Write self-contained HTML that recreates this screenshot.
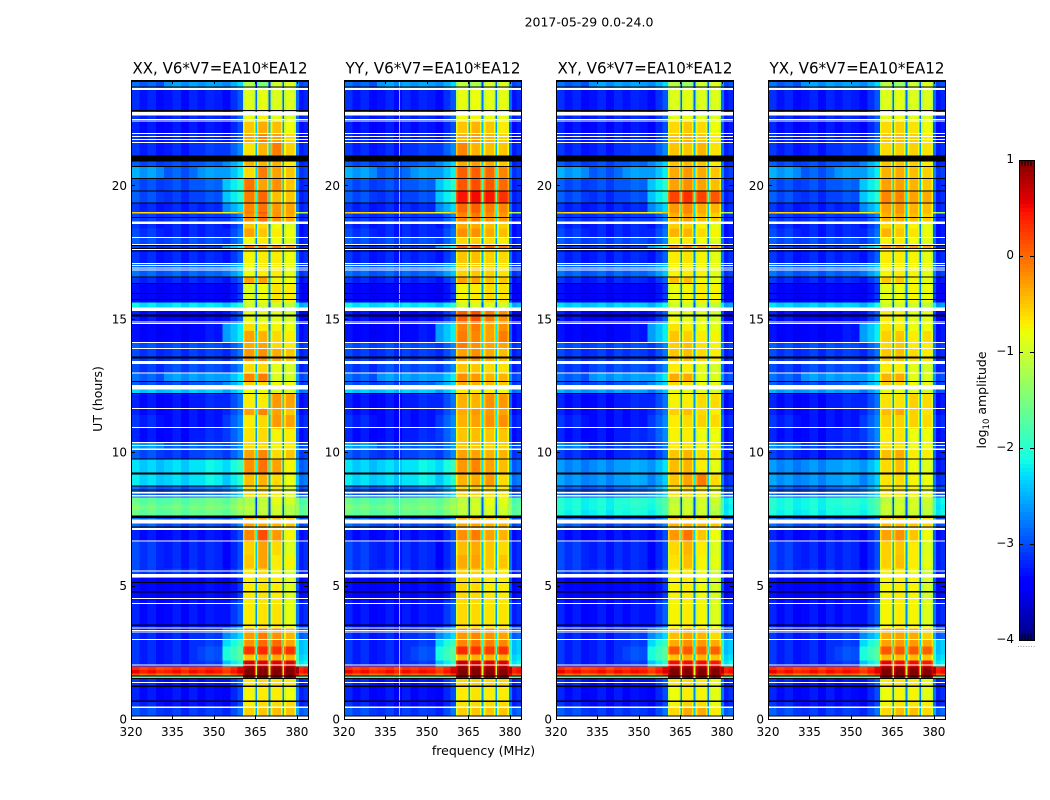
<!DOCTYPE html>
<html lang="en">
<head>
<meta charset="utf-8">
<title>2017-05-29 dynamic spectra</title>
<style>
html,body{margin:0;padding:0;background:#fff}
svg{display:block}
text{font-family:"DejaVu Sans","Liberation Sans",sans-serif;fill:#000}
</style>
</head>
<body>
<svg id="figure" xmlns="http://www.w3.org/2000/svg" width="1050" height="800" viewBox="0 0 1050 800">
<text x="589" y="26.5" font-size="12.5" text-anchor="middle">2017-05-29 0.0-24.0</text>
<text x="102" y="399" font-size="12.5" text-anchor="middle" transform="rotate(-90 102 399)">UT (hours)</text>
<text x="483.5" y="755" font-size="12.5" text-anchor="middle">frequency (MHz)</text>
<text x="986" y="400" font-size="12.5" text-anchor="middle" transform="rotate(-90 986 400)">log<tspan font-size="8.5" dy="3">10</tspan><tspan dy="-3"> amplitude</tspan></text>
<g id="panels"></g>
<g id="colorbar"></g>
</svg>
<script>
// ---- chart data (log10 amplitude, hours, MHz) ----
const panelTitles = ['XX, V6*V7=EA10*EA12','YY, V6*V7=EA10*EA12','XY, V6*V7=EA10*EA12','YX, V6*V7=EA10*EA12'];
const freqTicks = [320,335,350,365,380];
const hourTicks = [0,5,10,15,20];
const colorbarTicks = [1,0,-1,-2,-3,-4];

// Channel edges in MHz
const channelEdges = [320,323,326,329,332,335,338,341,344,347,350,353,356,358.5,360.5,361.1,364.4,365,365.5,366.1,369.1,369.7,370.5,371.1,374.2,374.8,375.4,376,379.1,379.7,380.7,382.3,384];
// Which level each channel reads: 0-4 background columns, 5-8 bands, 9 gap between bands
const channelLevel = [0,0,0,0,1,1,1,1,2,2,2,3,3,3,5,5,5,9,6,6,6,9,7,7,7,9,8,8,8,4,4,4];
const channelOffset = [.1,-.05,.05,-.1,-.05,.05,-.1,.05,-.05,.05,0,-.2,0,.2,-.35,0,-.3,0,-.3,0,-.3,0,-.3,0,-.3,0,-.3,0,-.35,.4,-.05,.05];

// Start hour of each spectrum row
const rowStarts = [0,.45,.7,1.25,1.55,1.65,1.72,1.85,1.97,2.2,2.42,2.72,3,3.45,4.45,5.3,5.65,6.15,6.65,7.1,7.62,7.85,8.05,8.32,8.75,9.2,9.75,10.1,10.4,10.9,11.4,11.65,12.2,12.4,12.65,13,13.4,13.9,14.1,14.55,14.85,15.42,15.62,16.33,16.57,17.08,17.6,17.8,18.05,18.4,18.65,18.95,19.02,19.35,19.8,20.25,20.7,21.1,21.6,21.95,22.4,22.75,23.6,23.72];

// Background levels per row: 320-332, 332-344, 344-353, 353-360.5, 380-384 MHz
const background = [
[-3,-3.1,-3.1,-3,-2.9],[-3.2,-3.3,-3.3,-3.2,-3.2],[-3.3,-3.3,-3.35,-3.2,-3.2],[-3.2,-3.3,-3.3,-3.1,-3.2],[-1.9,-1.9,-1.9,-1.8,-1.8],
[.05,.05,.05,.1,.1],[.45,.45,.45,.45,.45],[.25,.25,.3,.35,.4],[-3.2,-3.2,-3.1,-2.2,-2.2],
[-3.2,-3.2,-3,-1.9,-2.3],[-3.2,-3.2,-3,-1.9,-2.4],[-3.2,-3.2,-3.1,-2.1,-2.4],[-3.2,-3.2,-3.1,-2.5,-2.9],
[-3.3,-3.3,-3.3,-3.1,-3.2],[-3.4,-3.4,-3.35,-3.3,-3.35],[-3.1,-3.1,-3.2,-3.1,-3.2],[-3.1,-3.2,-3.2,-3.2,-3.2],
[-3.1,-3.2,-3.2,-3.2,-3.2],[-3.3,-3.3,-3.3,-3.2,-3.3],[-2.9,-3,-3,-2.9,-3],[-1.65,-1.65,-1.6,-1.5,-1.7],
[-1.55,-1.55,-1.5,-1.4,-1.7],[-1.7,-1.7,-1.6,-1.5,-1.8],[-2.9,-2.9,-2.8,-2.5,-3],[-2.3,-2.3,-2.2,-2.2,-2.8],
[-2.35,-2.3,-2.2,-2.1,-2.9],[-3,-3.1,-3,-2.9,-3.1],[-2.6,-2.9,-2.9,-2.8,-3],[-3.3,-3.3,-3.2,-2.9,-3.3],
[-3.2,-3.3,-3.3,-2.9,-3.2],[-3.3,-3.3,-3.3,-3,-3.3],[-3.3,-3.3,-3.2,-3,-3.3],[-2.4,-2.4,-2.4,-2.4,-2.8],
[-3,-3,-2.9,-2.5,-3.1],[-2.9,-2.6,-2.6,-2.4,-3],[-3.1,-3,-3,-2.9,-3.2],[-3.1,-3.1,-3.1,-3,-3.2],
[-3,-3,-3,-2.9,-3.1],[-3.4,-3.4,-3.3,-2.4,-3.3],[-3.4,-3.4,-3.3,-2.4,-3.3],[-3.3,-3.4,-3.35,-3.1,-3.4],
[-2.25,-2.25,-2.25,-2.2,-2.5],[-3.4,-3.4,-3.4,-3.3,-3.45],[-3.2,-3.2,-3.2,-3.1,-3.3],[-2.9,-2.9,-2.9,-2.6,-3.1],
[-3.2,-3.2,-3.2,-3.1,-3.2],[-3.1,-3.1,-3.1,-2.4,-3.2],[-3,-3,-3,-2.9,-3.2],[-3.1,-3.2,-3.2,-3,-3.3],
[-3.2,-3.2,-3.2,-3.1,-3.3],[-3.1,-3.1,-3.1,-2.9,-3.2],[-.6,-.6,-.7,-.7,-1.2],[-3.2,-3.2,-3.2,-2.5,-3.2],
[-3,-3.1,-3,-2.2,-3.2],[-3,-3,-2.9,-2.2,-3.2],[-2.6,-2.9,-2.6,-2.4,-3.1],[-3,-3,-2.9,-2.5,-3.2],
[-3.2,-3.2,-3.1,-2.9,-3.2],[-3.2,-3.2,-3.2,-3.1,-3.3],[-3.3,-3.3,-3.3,-3.2,-3.3],[-3.2,-3.2,-3.2,-3.1,-3.2],
[-3.25,-3.25,-3.25,-3.15,-3.25],[-2.6,-2.6,-2.6,-2.4,-2.9],[-2.9,-2.6,-2.6,-2.5,-3]
];

// Cross-hand panels read fainter in these rows: [row index, change in log10 amplitude]
const crossHandBackgroundChange = [[20,-.5],[21,-.55],[22,-.4],[24,-.35],[25,-.35],[26,-.15],[27,-.15],[32,-.2],[41,-.1],[5,-.05]];

// Band levels per row for the four sub-bands
const bandsXX = [
[-.55,-.5,-.45,-.5],[-.7,-.6,-.6,-.6],[-.75,-.7,-.7,-.8],[-.7,-.6,-.65,-.7],[1,1,1,1],[1,1,1,1],[1,1,1,1],[.95,.95,.95,.95],[.65,.6,.6,.6],
[-.5,-.3,-.35,-.4],[.3,.35,.3,.3],[-.2,0,0,-.3],[-.25,-.1,-.2,-.4],[-.7,-.65,-.65,-.85],[-.7,-.65,-.7,-.9],[-.7,-.6,-.75,-.95],[-.5,-.3,-.7,-.75],
[-.55,-.3,-.6,-.9],[-.15,.15,-.25,-.75],[-.3,-.35,-.4,-.5],[-1.15,-1.1,-1,-1.15],[-1.1,-1.05,-.95,-1.1],[-1.2,-1.1,-.85,-.95],[-.6,-.6,-.7,-.9],[-.45,-.4,-.6,-.8],
[-.2,-.05,-.3,-.75],[-.3,-.15,-.6,-.5],[-.6,-.6,-.75,-.7],[-.65,-.6,-.75,-.7],[-.7,-.6,-.25,-.3],[-.3,-.15,-.3,-.5],[-.7,-.7,-.25,-.3],[-.8,-.8,-.9,-.95],
[-.55,-.6,-.8,-.8],[-.15,-.1,-.9,-.95],[-.6,-.6,-.85,-.95],[-.25,-.2,-.35,-.5],[-.35,-.3,-.6,-.7],[-.3,-.4,-.6,-.7],[-.6,-.7,-.75,-.8],[-.85,-.9,-.85,-.95],
[-1,-1,-1,-1.1],[-.9,-.8,-.65,-.7],[-.3,-.3,-.75,-.8],[-.8,-.7,-.7,-.85],[-.75,-.7,-.7,-.8],[-.05,-.1,-.1,-.2],[-.8,-.7,-.8,-.9],[-.3,-.5,-.7,-.8],
[-.5,-.6,-.8,-.9],[-.2,-.05,-.25,-.35],[-.1,.1,-.2,-.3],[-.15,-.05,-.25,-.3],[-.1,0,-.45,-.5],[-.05,-.3,-.2,-.5],[-.6,-.1,-.3,-.5],[-.4,-.4,-.4,-.7],
[-.65,-.4,-.1,-.55],[-.35,-.15,-.3,-.6],[-.5,-.35,-.45,-.8],[-.85,-.75,-.85,-.9],[-.9,-.85,-.9,-.9],[-1.2,-1.2,-1.05,-.95],[-1.2,-1.5,-1,-.9]
];
const bandsYY = [
[-.55,-.5,-.5,-.5],[-.65,-.6,-.6,-.6],[-.7,-.65,-.7,-.7],[-.6,-.55,-.6,-.6],[1,1,1,1],[1,1,1,1],[1,1,1,1],[.95,.95,.9,.9],[.7,.65,.6,.6],
[-.45,-.4,-.4,-.4],[.35,.3,.25,.3],[-.15,-.05,-.1,-.15],[-.25,-.15,-.2,-.3],[-.6,-.6,-.65,-.65],[-.6,-.6,-.7,-.7],[-.55,-.55,-.65,-.7],[-.35,-.3,-.5,-.5],
[-.45,-.35,-.5,-.6],[-.2,-.1,-.3,-.4],[-.35,-.3,-.4,-.4],[-1.1,-1,-.95,-1],[-1.05,-.95,-.9,-.95],[-1.1,-1,-.8,-.85],[-.6,-.55,-.6,-.7],[-.4,-.35,-.25,-.6],
[-.25,-.15,-.3,-.45],[-.3,-.3,-.4,-.4],[-.5,-.5,-.55,-.55],[-.5,-.45,-.5,-.5],[-.4,-.3,-.2,-.2],[-.35,-.25,-.25,-.3],[-.4,-.4,-.2,-.25],[-.7,-.7,-.75,-.8],
[-.35,-.4,-.45,-.5],[-.2,-.25,-.4,-.4],[-.5,-.5,-.6,-.65],[-.3,-.2,-.35,-.45],[-.1,-.2,-.3,-.3],[-.1,-.15,-.3,-.1],[-.15,-.1,-.3,-.2],[.05,.15,-.1,-.2],
[-1,-.95,-.95,-1],[-.75,-.7,-.6,-.65],[-.3,-.3,-.45,-.5],[-.55,-.5,-.55,-.65],[-.5,-.45,-.55,-.6],[.1,.15,.1,-.05],[-.6,-.55,-.6,-.7],[-.2,-.2,-.35,-.45],
[-.35,-.35,-.45,-.55],[-.15,-.1,-.2,-.25],[-.1,0,-.15,-.2],[0,.05,-.1,-.15],[.45,.5,.45,.3],[.1,.15,.1,0],[.05,.05,0,-.15],[-.35,-.3,-.35,-.5],
[-.15,-.4,-.45,-.5],[-.4,-.3,-.4,-.55],[-.5,-.4,-.5,-.7],[-.8,-.75,-.8,-.85],[-.85,-.8,-.85,-.85],[-1.1,-1.1,-1,-.95],[-1.1,-1.2,-.95,-.9]
];
const bandsXY = [
[-.6,-.35,-.35,-.7],[-.75,-.55,-.6,-.8],[-.8,-.7,-.75,-.85],[-.7,-.6,-.7,-.8],[1,1,1,1],[1,1,1,1],[1,1,1,1],[.95,.95,.95,.95],[.5,.5,.5,.45],
[-.5,-.4,-.4,-.5],[.1,.1,.05,.05],[-.35,-.2,-.25,-.35],[-.45,-.3,-.4,-.6],[-.75,-.7,-.75,-.9],[-.75,-.7,-.8,-.95],[-.75,-.7,-.8,-1],[-.65,-.45,-.75,-.85],
[-.6,-.4,-.7,-.9],[-.25,-.05,-.5,-.8],[-.4,-.4,-.45,-.5],[-1.05,-1,-1,-1.15],[-1,-.95,-.95,-1.1],[-1.1,-1,-.95,-1],[-.65,-.6,-.7,-.85],[-.5,-.3,-.1,-.6],
[-.45,-.4,-.7,-.85],[-.5,-.4,-.6,-.7],[-.7,-.65,-.75,-.75],[-.75,-.7,-.8,-.8],[-.7,-.6,-.55,-.6],[-.55,-.45,-.6,-.7],[-.75,-.7,-.6,-.6],[-.85,-.85,-.9,-.95],
[-.6,-.65,-.8,-.85],[-.35,-.35,-.85,-.9],[-.7,-.7,-.85,-.95],[-.5,-.45,-.6,-.7],[-.55,-.45,-.65,-.75],[-.5,-.55,-.7,-.75],[-.65,-.7,-.8,-.85],[-.8,-.85,-.85,-.95],
[-1,-1,-1,-1.1],[-.85,-.75,-.7,-.75],[-.45,-.45,-.75,-.85],[-.75,-.7,-.75,-.85],[-.7,-.65,-.75,-.85],[-.1,-.1,-.2,-.3],[-.75,-.7,-.8,-.9],[-.4,-.4,-.6,-.75],
[-.55,-.55,-.75,-.85],[-.4,-.3,-.45,-.55],[-.3,-.15,-.35,-.45],[-.25,-.15,-.35,-.4],[.2,.3,.2,.1],[-.3,-.2,-.3,-.45],[-.35,-.25,-.35,-.5],[-.5,-.45,-.5,-.7],
[-.5,-.5,-.4,-.65],[-.5,-.4,-.5,-.7],[-.6,-.5,-.6,-.8],[-.85,-.8,-.85,-.9],[-.9,-.85,-.9,-.9],[-1.15,-1.15,-1.05,-.95],[-1.15,-1.3,-1,-.9]
];
const bandsYX = [
[-.6,-.45,-.45,-.6],[-.75,-.65,-.65,-.7],[-.8,-.75,-.75,-.85],[-.7,-.65,-.7,-.8],[1,1,1,1],[1,1,1,1],[1,1,1,1],[.95,.95,.95,.9],[.55,.5,.5,.45],
[-.45,-.45,-.45,-.5],[.1,.1,.1,.05],[-.3,-.25,-.25,-.35],[-.35,-.3,-.35,-.55],[-.75,-.7,-.75,-.9],[-.75,-.7,-.75,-.95],[-.7,-.7,-.8,-1],[-.55,-.45,-.7,-.85],
[-.55,-.5,-.7,-.9],[-.3,-.2,-.5,-.8],[-.45,-.45,-.5,-.6],[-1.05,-1,-1,-1.1],[-1,-.95,-.95,-1.05],[-1.1,-1,-.95,-1],[-.7,-.65,-.75,-.85],[-.65,-.6,-.75,-.8],
[-.6,-.45,-.8,-.9],[-.45,-.35,-.7,-.7],[-.65,-.65,-.8,-.8],[-.7,-.65,-.8,-.8],[-.55,-.55,-.55,-.6],[-.45,-.35,-.55,-.65],[-.65,-.65,-.55,-.6],[-.85,-.85,-.9,-.95],
[-.55,-.6,-.8,-.85],[-.4,-.35,-.85,-.9],[-.7,-.7,-.85,-.95],[-.5,-.45,-.6,-.7],[-.6,-.5,-.7,-.7],[-.55,-.5,-.7,-.6],[-.65,-.7,-.8,-.8],[-.7,-.75,-.85,-.85],
[-1,-1,-1,-1.1],[-.85,-.8,-.75,-.8],[-.5,-.5,-.75,-.85],[-.75,-.7,-.75,-.85],[-.7,-.7,-.75,-.85],[-.2,-.2,-.25,-.35],[-.75,-.7,-.8,-.9],[-.4,-.5,-.65,-.8],
[-.6,-.6,-.75,-.85],[-.4,-.35,-.45,-.55],[-.35,-.25,-.4,-.45],[-.3,-.25,-.4,-.45],[-.15,-.15,-.3,-.35],[-.3,-.3,-.4,-.5],[-.4,-.35,-.45,-.55],[-.5,-.5,-.55,-.7],
[-.6,-.55,-.55,-.65],[-.5,-.45,-.55,-.7],[-.6,-.55,-.65,-.8],[-.85,-.8,-.85,-.9],[-.9,-.85,-.9,-.9],[-1.15,-1.15,-1.05,-.95],[-1.15,-1.3,-1,-.9]
];
const panelBands = [bandsXX,bandsYY,bandsXY,bandsYX];
const panelUsesCrossHand = [false,false,true,true];
const gapDepth = 2;

// Flagged intervals: [centre hour, thickness in hours]
const flaggedWhite = [[.05,.09],[.44,.04],[1.36,.04],[2.02,.04],[2.98,.04],[3.26,.03],[3.33,.03],[3.41,.03],[4.33,.04],[4.52,.04],[5.37,.12],[5.55,.04],[6.67,.04],[7.12,.06],[7.4,.15],[8.37,.05],[8.48,.04],[10.11,.04],[10.25,.04],[10.36,.04],[10.92,.04],[11.64,.04],[12.43,.16],[12.97,.04],[13.36,.12],[13.88,.04],[14.11,.04],[14.82,.03],[14.88,.03],[15.36,.13],[16.84,.03],[16.91,.03],[17,.03],[17.07,.03],[17.59,.04],[17.79,.04],[18.04,.04],[18.6,.11],[21.61,.03],[21.72,.03],[21.84,.03],[21.95,.03],[22.41,.03],[22.47,.03],[22.69,.13],[23.6,.04],[23.63,.03]];
const flaggedBlack = [[.11,.04],[.67,.06],[1.23,.06],[1.52,.04],[1.61,.04],[3.52,.05],[4.77,.04],[5.12,.04],[7.2,.04],[7.58,.08],[8.58,.04],[8.74,.04],[9.2,.06],[9.74,.04],[12.2,.04],[12.65,.04],[13.55,.07],[15.13,.07],[15.72,.04],[15.94,.04],[16.32,.04],[16.57,.04],[17.54,.03],[17.63,.03],[17.75,.03],[18.8,.04],[19.34,.04],[19.79,.04],[20.26,.04],[20.71,.04],[21.01,.22],[22.81,.04],[23.68,.04],[23.9,.04]];
// Narrow interference channels per panel, in MHz
const interferenceChannels = [[],[339.9],[],[]];

// ---- layout ----
const axesLeft = [131,344,556,768];
const axesWidth = 177, axesTop = 80, axesBottom = 719;
const freqMin = 320, freqMax = 384, hourMin = 0, hourMax = 23.95;
const cbarLeft = 1019, cbarRight = 1034, cbarTop = 160, cbarBottom = 640, cbarMax = 1, cbarMin = -4, cbarSteps = 120;
const NS = 'http://www.w3.org/2000/svg';

function xScale(panel, mhz){ return axesLeft[panel] + (mhz - freqMin) / (freqMax - freqMin) * axesWidth; }
function yScale(h){ return axesBottom - (h - hourMin) / (hourMax - hourMin) * (axesBottom - axesTop); }
function cbarY(v){ return cbarTop + (cbarMax - v) / (cbarMax - cbarMin) * (cbarBottom - cbarTop); }

function lerpStops(stops, t){
  for (let i = 1; i < stops.length; i++) {
    if (t <= stops[i][0]) {
      const a = stops[i-1], b = stops[i];
      return a[1] + (b[1] - a[1]) * (t - a[0]) / (b[0] - a[0]);
    }
  }
  return stops[stops.length-1][1];
}
const jetR = [[0,0],[.35,0],[.66,1],[.89,1],[1,.5]];
const jetG = [[0,0],[.125,0],[.375,1],[.64,1],[.91,0],[1,0]];
const jetB = [[0,.5],[.11,1],[.34,1],[.65,0],[1,0]];
function jet(v){
  const t = Math.min(1, Math.max(0, (v - cbarMin) / (cbarMax - cbarMin)));
  return 'rgb(' + Math.round(255*lerpStops(jetR,t)) + ',' + Math.round(255*lerpStops(jetG,t)) + ',' + Math.round(255*lerpStops(jetB,t)) + ')';
}
function svgEl(tag, attrs, parent){
  const e = document.createElementNS(NS, tag);
  for (const k in attrs) e.setAttribute(k, attrs[k]);
  parent.appendChild(e);
  return e;
}

function rowLevels(panel, r){
  const levels = background[r].slice();
  if (panelUsesCrossHand[panel]) {
    crossHandBackgroundChange.forEach(function(c){
      if (c[0] === r) { for (let i = 0; i < 5; i++) levels[i] += c[1]; }
    });
  }
  return levels.concat(panelBands[panel][r]);
}

const panelsRoot = document.getElementById('panels');
panelTitles.forEach(function(titleText, p){
  const g = svgEl('g', {}, panelsRoot);
  
  

  const title = svgEl('text', {x: axesLeft[p] + axesWidth/2 + .5, y: 73.5, 'font-size': 16, 'text-anchor': 'middle', textLength: 175, lengthAdjust: 'spacingAndGlyphs'}, g);
  title.textContent = titleText;
  
  

  const cells = svgEl('g', {'shape-rendering': 'crispEdges'}, g);
  
  
  rowStarts.forEach(function(start, r){
    const end = r + 1 < rowStarts.length ? rowStarts[r+1] : hourMax;
    const levels = rowLevels(p, r);
    for (let c = 0; c < channelLevel.length; c++) {
      let value;
      if (channelLevel[c] === 9) {
        const left = levels[channelLevel[c-1]], right = levels[channelLevel[c+1]];
        value = (left + right) / 2 - gapDepth;
      } else {
        value = levels[channelLevel[c]] + channelOffset[c];
      }
      const x0 = xScale(p, channelEdges[c]), x1 = xScale(p, channelEdges[c+1]);
      const y0 = yScale(end), y1 = yScale(start);
      const cell = svgEl('rect', {x: x0, y: y0, width: x1 - x0 + .3, height: y1 - y0 + .3, fill: jet(value)}, cells);
      
      
    }
  });

  interferenceChannels[p].forEach(function(mhz){
    const line = svgEl('rect', {x: xScale(p, mhz), y: axesTop, width: 1, height: axesBottom - axesTop, fill: '#fff', opacity: .65}, g);
    
    
  });

  const masks = svgEl('g', {'shape-rendering': 'crispEdges'}, g);
  
  
  flaggedBlack.forEach(function(f){
    const line = svgEl('rect', {x: axesLeft[p], y: yScale(f[0] + f[1]/2), width: axesWidth, height: Math.max(1, f[1] * (axesBottom-axesTop) / (hourMax-hourMin)), fill: '#000'}, masks);
    
    
  });
  flaggedWhite.forEach(function(f){
    const line = svgEl('rect', {x: axesLeft[p], y: yScale(f[0] + f[1]/2), width: axesWidth, height: Math.max(1, f[1] * (axesBottom-axesTop) / (hourMax-hourMin)), fill: '#fff'}, masks);
    
    
  });

  const frame = svgEl('rect', {x: axesLeft[p] + .5, y: axesTop + .5, width: axesWidth, height: axesBottom - axesTop, fill: 'none', stroke: '#000', 'stroke-width': 1, 'shape-rendering': 'crispEdges'}, g);
  
  

  freqTicks.forEach(function(t){
    const x = Math.round(xScale(p, t)) + .5;
    const bottomTick = svgEl('line', {x1: x, x2: x, y1: axesBottom, y2: axesBottom - 4, stroke: '#000', 'stroke-width': 1}, g);
    
    
    const topTick = svgEl('line', {x1: x, x2: x, y1: axesTop, y2: axesTop + 4, stroke: '#000', 'stroke-width': 1}, g);
    
    
    const label = svgEl('text', {x: xScale(p, t), y: 736, 'font-size': 12, 'text-anchor': 'middle'}, g);
    label.textContent = t;
    
    
  });
  hourTicks.forEach(function(t){
    const y = Math.round(yScale(t)) + .5;
    const leftTick = svgEl('line', {x1: axesLeft[p], x2: axesLeft[p] + 4, y1: y, y2: y, stroke: '#000', 'stroke-width': 1}, g);
    
    
    const rightTick = svgEl('line', {x1: axesLeft[p] + axesWidth, x2: axesLeft[p] + axesWidth - 4, y1: y, y2: y, stroke: '#000', 'stroke-width': 1}, g);
    
    
    const label = svgEl('text', {x: axesLeft[p] - 4, y: yScale(t) + 4.5, 'font-size': 12, 'text-anchor': 'end'}, g);
    label.textContent = t;
    
    
  });
});

// Colorbar
const cbarRoot = document.getElementById('colorbar');
const cbarCells = svgEl('g', {'shape-rendering': 'crispEdges'}, cbarRoot);


for (let i = 0; i < cbarSteps; i++) {
  const vTop = cbarMax - (cbarMax - cbarMin) * i / cbarSteps;
  const vBottom = cbarMax - (cbarMax - cbarMin) * (i + 1) / cbarSteps;
  const step = svgEl('rect', {x: cbarLeft, y: cbarY(vTop), width: cbarRight - cbarLeft, height: cbarY(vBottom) - cbarY(vTop) + .5, fill: jet((vTop + vBottom) / 2)}, cbarCells);
  
  
}
const cbarFrame = svgEl('rect', {x: cbarLeft + .5, y: cbarTop + .5, width: cbarRight - cbarLeft, height: cbarBottom - cbarTop, fill: 'none', stroke: '#000', 'stroke-width': 1, 'shape-rendering': 'crispEdges'}, cbarRoot);


colorbarTicks.forEach(function(t){
  const y = Math.round(cbarY(t)) + .5;
  const leftDash = svgEl('line', {x1: cbarLeft, x2: cbarLeft + 4, y1: y, y2: y, stroke: '#000', 'stroke-width': 1}, cbarRoot);
  
  
  const rightDash = svgEl('line', {x1: cbarRight - 4, x2: cbarRight, y1: y, y2: y, stroke: '#000', 'stroke-width': 1}, cbarRoot);
  
  
  const label = svgEl('text', {x: cbarLeft - 5, y: cbarY(t) + 3, 'font-size': 12, 'text-anchor': 'end'}, cbarRoot);
  label.textContent = t < 0 ? '\u2212' + Math.abs(t) : String(t);
  
  
});
for (let i = 1; i < 5; i++) {
  const x = cbarLeft + i * (cbarRight - cbarLeft) / 5;
  const topMinor = svgEl('line', {x1: x, x2: x, y1: cbarTop, y2: cbarTop + 6, stroke: '#000', 'stroke-width': 1}, cbarRoot);
  
  
  const bottomMinor = svgEl('line', {x1: x, x2: x, y1: cbarBottom, y2: cbarBottom - 6, stroke: '#000', 'stroke-width': 1}, cbarRoot);
  
  
}
for (let i = 0; i < 7; i++) {
  const dot = svgEl('rect', {x: cbarLeft - 1 + i * 2.6, y: 646, width: 1, height: 1, fill: '#999'}, cbarRoot);
  
  
}
</script>
</body>
</html>
